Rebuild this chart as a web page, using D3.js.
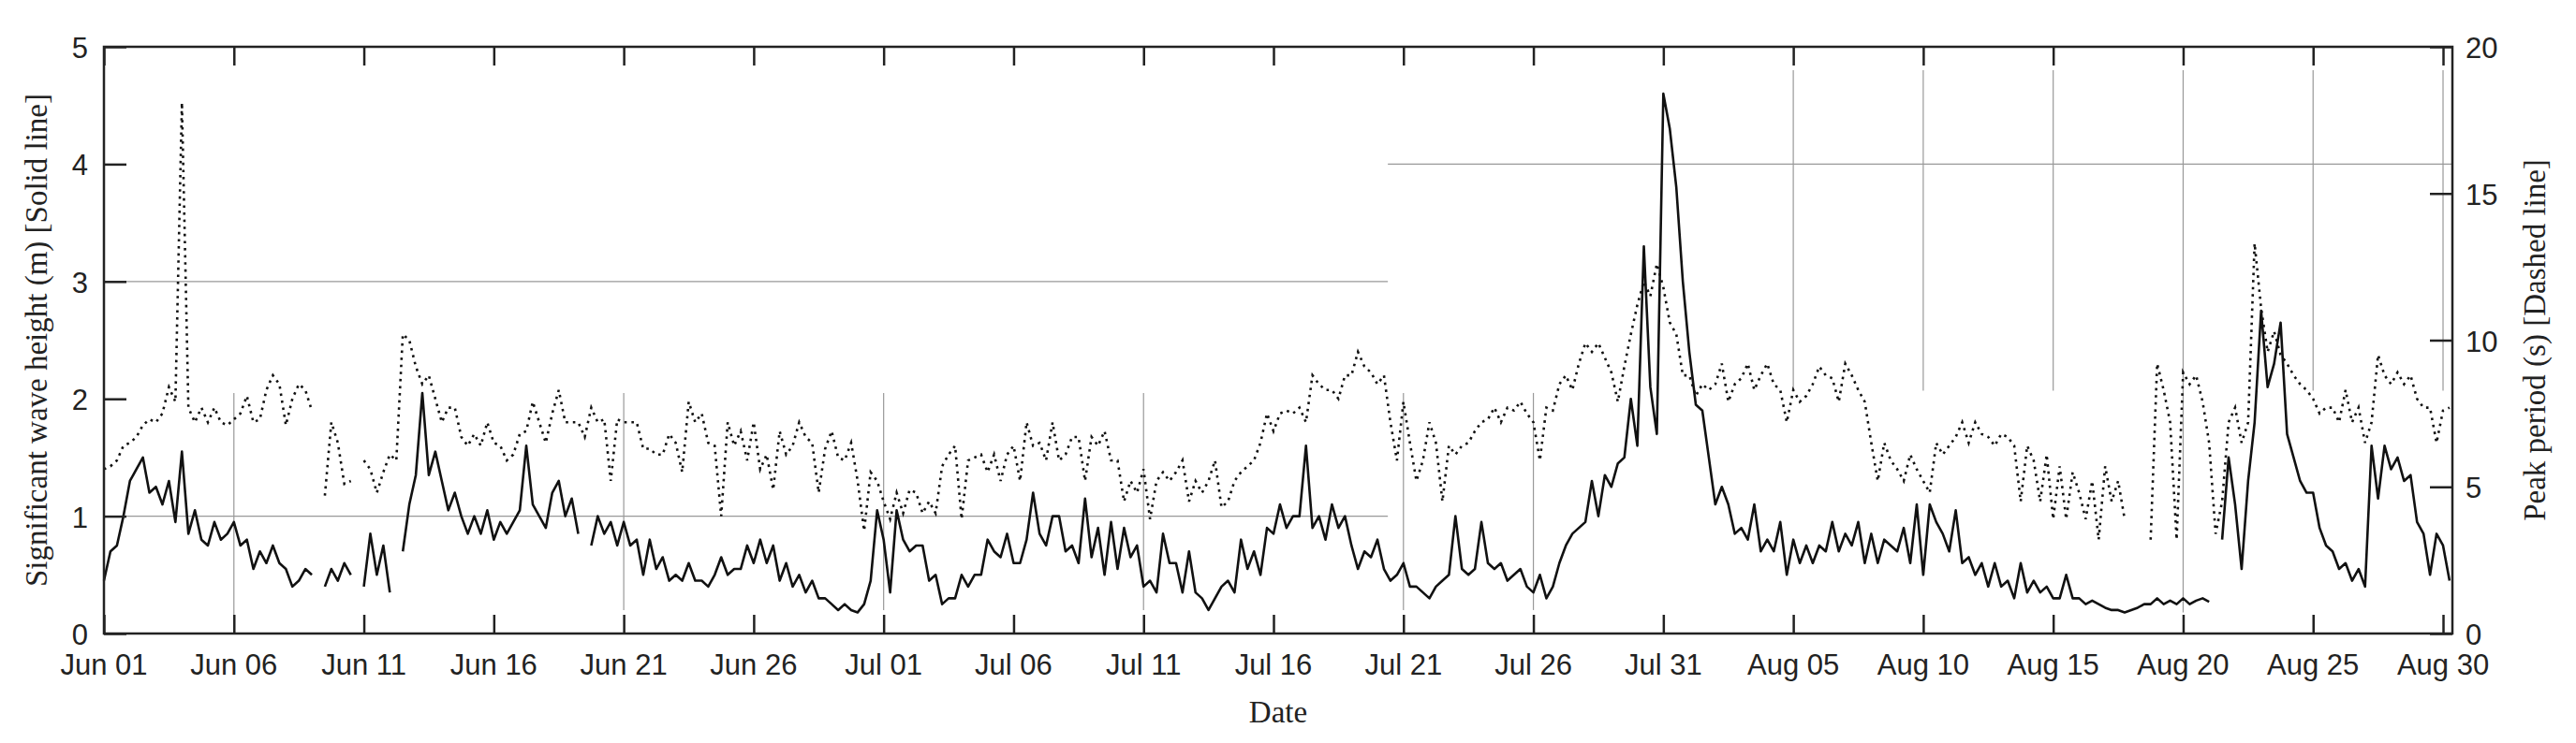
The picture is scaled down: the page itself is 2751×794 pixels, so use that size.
<!DOCTYPE html>
<html>
<head>
<meta charset="utf-8">
<script src="https://d3js.org/d3.v7.min.js"></script>
<style>
  body { margin: 0; background: #fff; }
  .tick-label { font-family: "Liberation Sans", Arial, sans-serif; font-size: 31px; fill: #222; }
  .title { font-family: "Liberation Serif", "Times New Roman", serif; font-size: 33px; fill: #222; }
</style>
</head>
<body>
<script>
// 6-hourly samples starting Jun 01 00:00
var hsJun = [0.45,0.7,0.75,1.0, 1.3,1.4,1.5,1.2, 1.25,1.1,1.3,0.95, 1.55,0.85,1.05,0.8, 0.75,0.95,0.8,0.85,
  0.95,0.75,0.8,0.55, 0.7,0.6,0.75,0.6, 0.55,0.4,0.45,0.55, 0.5,null,0.4,0.55, 0.45,0.6,0.5,null,
  0.4,0.85,0.5,0.75, 0.35,null,0.7,1.1, 1.35,2.05,1.35,1.55, 1.3,1.05,1.2,1.0, 0.85,1.0,0.85,1.05,
  0.8,0.95,0.85,0.95, 1.05,1.6,1.1,1.0, 0.9,1.2,1.3,1.0, 1.15,0.85,null,0.75, 1.0,0.85,0.95,0.75,
  0.95,0.75,0.8,0.5, 0.8,0.55,0.65,0.45, 0.5,0.45,0.6,0.45, 0.45,0.4,0.5,0.65, 0.5,0.55,0.55,0.75,
  0.6,0.8,0.6,0.75, 0.45,0.6,0.4,0.5, 0.35,0.45,0.3,0.3, 0.25,0.2,0.25,0.2, 0.18,0.25,0.45,1.05];
var hsJul = [0.8,0.35,1.05,0.8,
  0.7,0.75,0.75,0.45, 0.5,0.25,0.3,0.3, 0.5,0.4,0.5,0.5, 0.8,0.7,0.65,0.85, 0.6,0.6,0.8,1.2,
  0.85,0.75,1.0,1.0, 0.7,0.75,0.6,1.15, 0.65,0.9,0.5,0.95, 0.55,0.9,0.65,0.75, 0.4,0.45,0.35,0.85,
  0.6,0.6,0.35,0.7, 0.35,0.3,0.2,0.3, 0.4,0.45,0.35,0.8, 0.55,0.7,0.5,0.9, 0.85,1.1,0.9,1.0,
  1.0,1.6,0.9,1.0, 0.8,1.1,0.9,1.0, 0.75,0.55,0.7,0.65, 0.8,0.55,0.45,0.5, 0.6,0.4,0.4,0.35,
  0.3,0.4,0.45,0.5, 1.0,0.55,0.5,0.55, 0.95,0.6,0.55,0.6, 0.45,0.5,0.55,0.4, 0.35,0.5,0.3,0.4,
  0.6,0.75,0.85,0.9, 0.95,1.3,1.0,1.35, 1.25,1.45,1.5,2.0, 1.6,3.3,2.1,1.7, 4.6,4.3,3.8,3.0];
var hsAug = [2.4,1.95,1.9,1.5,
  1.1,1.25,1.1,0.85, 0.9,0.8,1.1,0.7, 0.8,0.7,0.95,0.5, 0.8,0.6,0.75,0.6, 0.75,0.7,0.95,0.7,
  0.85,0.75,0.95,0.6, 0.85,0.6,0.8,0.75, 0.7,0.9,0.6,1.1, 0.5,1.1,0.95,0.85, 0.7,1.05,0.6,0.65,
  0.5,0.6,0.4,0.6, 0.4,0.45,0.3,0.6, 0.35,0.45,0.35,0.4, 0.3,0.3,0.5,0.3, 0.3,0.25,0.28,0.25,
  0.22,0.2,0.2,0.18,
  0.2,0.22,0.25,0.25, 0.3,0.25,0.28,0.25, 0.3,0.25,0.28,0.3, 0.27,null,0.8,1.5, 1.1,0.55,1.3,1.8,
  2.75,2.1,2.3,2.65, 1.7,1.5,1.3,1.2, 1.2,0.9,0.75,0.7, 0.55,0.6,0.45,0.55, 0.4,1.6,1.15,1.6,
  1.4,1.5,1.3,1.35, 0.95,0.85,0.5,0.85, 0.75,0.45];

var tpJun = [5.6,5.7,5.9,6.4, 6.5,6.7,7.1,7.3, 7.2,7.5,8.4,7.9, 18.1,7.7,7.2,7.7, 7.2,7.7,7.2,7.1,
  7.3,7.5,8.1,7.2, 7.3,8.3,8.8,8.5, 7.1,8.0,8.5,8.3, 7.6,null,4.7,7.2, 6.5,5.1,5.2,null,
  5.9,5.6,4.8,5.5, 6.1,5.9,10.2,10.0, 9.1,8.5,8.8,8.0, 7.2,7.7,7.7,6.7, 6.4,6.8,6.4,7.2,
  6.5,6.4,5.9,6.1, 6.8,6.9,7.9,7.2, 6.5,7.5,8.3,7.2, 7.2,7.2,6.7,7.7, 7.2,7.3,5.2,7.3,
  7.2,7.2,7.2,6.3, 6.3,6.1,6.1,6.8, 6.5,5.5,7.9,7.2, 7.5,6.5,6.4,4.0, 7.2,6.4,6.9,5.9,
  7.2,5.6,6.1,4.9, 6.9,6.1,6.4,7.2, 6.7,6.5,4.8,6.3, 6.9,6.0,5.9,6.5, 5.2,3.5,5.5,5.2];
var tpJul = [4.5,3.9,4.8,4.1,
  4.9,4.8,4.1,4.5, 4.1,5.7,6.1,6.4, 3.9,5.9,6.0,6.1, 5.5,6.1,5.2,6.1, 6.4,5.2,7.2,6.4,
  6.5,5.9,7.2,5.9, 6.1,6.7,6.7,5.2, 6.7,6.4,6.9,5.9, 5.9,4.5,5.2,4.8, 5.6,3.9,5.2,5.5,
  5.2,5.5,5.9,4.5, 5.2,4.8,5.2,5.9, 4.3,4.5,5.2,5.5, 5.7,5.9,6.5,7.5, 6.9,7.5,7.6,7.5,
  7.7,7.2,8.8,8.5, 8.3,8.3,8.0,8.8, 8.8,9.6,9.1,8.9, 8.5,8.8,7.2,5.9, 7.9,6.5,5.2,5.9,
  7.2,6.5,4.5,6.4, 6.1,6.4,6.5,6.9, 7.2,7.3,7.7,7.2, 7.7,7.6,7.9,7.5, 7.2,5.9,7.7,7.6,
  8.5,8.8,8.3,9.2, 9.9,9.6,9.9,9.4, 8.9,7.9,9.1,10.2, 11.2,12.0,11.5,12.6, 11.8,10.6,10.2,8.8];
var tpAug = [8.8,8.1,8.5,8.3,
  8.5,9.2,7.9,8.5, 8.7,9.2,8.3,8.8, 9.2,8.5,8.3,7.2, 8.3,7.9,8.1,8.5, 9.1,8.8,8.7,7.9,
  9.2,8.8,8.3,7.9, 6.5,5.2,6.5,5.9, 5.6,5.2,6.1,5.6, 5.2,4.8,6.5,6.1, 6.4,6.7,7.2,6.5,
  7.2,6.8,6.7,6.4, 6.8,6.7,6.4,4.5, 6.4,5.9,4.5,6.1, 3.9,5.7,3.9,5.5, 4.8,3.9,5.2,3.2,
  5.7,4.5,5.2,3.9,
  null,null,null,3.2, 9.2,8.3,7.2,3.2, 8.9,8.5,8.8,7.9, 6.5,3.4,4.5,7.2, 7.7,6.5,7.2,13.3,
  11.1,9.6,10.3,9.5, 9.2,8.8,8.5,8.3, 8.0,7.5,7.7,7.7, 7.2,8.3,7.2,7.7, 6.5,7.2,9.5,8.8,
  8.5,8.9,8.5,8.8, 8.0,7.7,7.7,6.5, 7.6,7.7];

var tickLabels = ["Jun 01","Jun 06","Jun 11","Jun 16","Jun 21","Jun 26","Jul 01","Jul 06","Jul 11",
  "Jul 16","Jul 21","Jul 26","Jul 31","Aug 05","Aug 10","Aug 15","Aug 20","Aug 25","Aug 30"];
var leftTicks = [0, 1, 2, 3, 4, 5];
var rightTicks = [0, 5, 10, 15, 20];

var W = 2751, H = 794;
var m = { left: 111, right: 132, top: 50, bottom: 117 };
var start = Date.UTC(2010, 5, 1);
var DAY = 864e5;

var hs = hsJun.concat(hsJul, hsAug);
var tp = tpJun.concat(tpJul, tpAug);
function series(vals) {
  return vals.map(function (v, i) { return { t: new Date(start + i * DAY / 4), v: v }; });
}

var svg = d3.select("body").append("svg").attr("width", W).attr("height", H);
var x = d3.scaleUtc().domain([new Date(start), new Date(start + 90.36 * DAY)]).range([m.left, W - m.right]);
var y = d3.scaleLinear().domain([0, 5]).range([H - m.bottom, m.top]);
var yR = d3.scaleLinear().domain([0, 20]).range([H - m.bottom, m.top]);
var tickDates = tickLabels.map(function (d, i) { return new Date(start + i * 5 * DAY); });

// partial grid lines (as in the original figure)
var grid = svg.append("g").attr("stroke", "#999").attr("stroke-width", 1.2);
[1, 3].forEach(function (v) {
  grid.append("line").attr("x1", x(new Date(start))).attr("x2", x(new Date(start + 49.4 * DAY)))
    .attr("y1", y(v)).attr("y2", y(v));
});
grid.append("line").attr("x1", x(new Date(start + 49.4 * DAY))).attr("x2", W - m.right)
  .attr("y1", yR(16)).attr("y2", yR(16));
var vGrid = [[1, 0, 2.05], [4, 0.2, 2.05], [6, 0.2, 2.05], [8, 0.2, 2.05], [10, 0.2, 2.05], [11, 0.2, 2.05],
  [13, 2.07, 4.8], [14, 2.07, 4.8], [15, 2.07, 4.8], [16, 0.18, 4.8], [17, 2.07, 4.8], [18, 2.07, 4.8]];
vGrid.forEach(function (g) {
  grid.append("line").attr("x1", x(tickDates[g[0]])).attr("x2", x(tickDates[g[0]]))
    .attr("y1", y(g[1])).attr("y2", y(g[2]));
});

// lines
var lineHs = d3.line().defined(function (d) { return d.v != null; })
  .x(function (d) { return x(d.t); }).y(function (d) { return y(d.v); });
var lineTp = d3.line().defined(function (d) { return d.v != null; })
  .x(function (d) { return x(d.t); }).y(function (d) { return yR(d.v); });
svg.append("path").datum(series(tp)).attr("d", lineTp).attr("fill", "none")
  .attr("stroke", "#111").attr("stroke-width", 2.6).attr("stroke-dasharray", "2.6,5");
svg.append("path").datum(series(hs)).attr("d", lineHs).attr("fill", "none")
  .attr("stroke", "#111").attr("stroke-width", 2.6).attr("stroke-linejoin", "round");

// axes (inward ticks)
function style(g) { g.select(".domain").remove(); g.selectAll("line").attr("stroke", "#222").attr("stroke-width", 2.5); }
svg.append("g").attr("transform", "translate(0," + (H - m.bottom) + ")")
  .call(d3.axisTop(x).tickValues(tickDates).tickSize(20).tickFormat("")).call(style);
svg.append("g").attr("transform", "translate(0," + m.top + ")")
  .call(d3.axisBottom(x).tickValues(tickDates).tickSize(20).tickFormat("")).call(style);
svg.append("g").attr("transform", "translate(" + m.left + ",0)")
  .call(d3.axisRight(y).tickValues(leftTicks).tickSize(24).tickFormat("")).call(style);
svg.append("g").attr("transform", "translate(" + (W - m.right) + ",0)")
  .call(d3.axisLeft(yR).tickValues(rightTicks).tickSize(24).tickFormat("")).call(style);

svg.append("rect").attr("x", m.left).attr("y", m.top).attr("width", W - m.left - m.right)
  .attr("height", H - m.top - m.bottom).attr("fill", "none").attr("stroke", "#222").attr("stroke-width", 2.5);

// tick labels
svg.selectAll(".xl").data(tickDates).enter().append("text").attr("class", "tick-label")
  .attr("x", function (d) { return x(d); }).attr("y", H - m.bottom + 44).attr("text-anchor", "middle")
  .text(function (d, i) { return tickLabels[i]; });
svg.selectAll(".yl").data(leftTicks).enter().append("text").attr("class", "tick-label")
  .attr("x", m.left - 17).attr("y", function (d) { return y(d) + 12; }).attr("text-anchor", "end")
  .text(function (d) { return d; });
svg.selectAll(".yr").data(rightTicks).enter().append("text").attr("class", "tick-label")
  .attr("x", W - m.right + 14).attr("y", function (d) { return yR(d) + 12; })
  .text(function (d) { return d; });

// titles
svg.append("text").attr("class", "title").attr("x", (m.left + W - m.right) / 2).attr("y", H - 22)
  .attr("text-anchor", "middle").text("Date");
svg.append("text").attr("class", "title").attr("text-anchor", "middle")
  .attr("transform", "translate(50," + (m.top + H - m.bottom) / 2 + ") rotate(-90)")
  .text("Significant wave height (m) [Solid line]");
svg.append("text").attr("class", "title").attr("text-anchor", "middle")
  .attr("transform", "translate(2718," + (m.top + H - m.bottom) / 2 + ") rotate(-90)")
  .text("Peak period (s) [Dashed line]");
</script>
</body>
</html>
